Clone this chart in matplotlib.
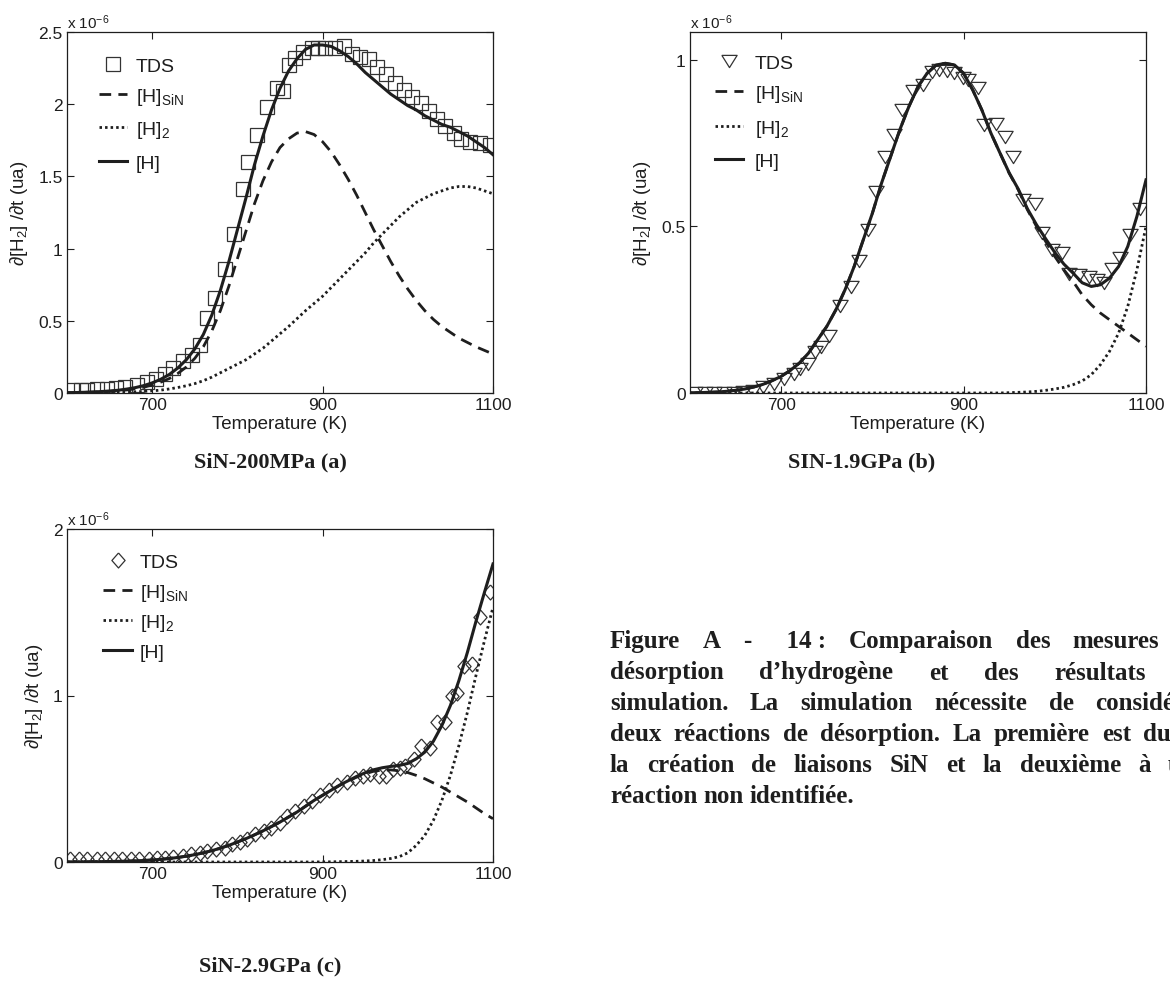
import matplotlib
matplotlib.use("Agg")
import matplotlib.pyplot as plt

plt.rcParams['font.family'] = ['Liberation Sans', 'DejaVu Sans']
plt.rcParams['mathtext.default'] = 'regular'
plt.rcParams['mathtext.fontset'] = 'custom'
plt.rcParams['mathtext.rm'] = 'Liberation Sans'

# ---------------------------------------------------------------- data
# temperature grid of the simulated curves (K)
temp_grid = [600, 610, 620, 630, 640, 650, 660, 670, 680, 690,
             700, 710, 720, 730, 740, 750, 760, 770, 780, 790,
             800, 810, 820, 830, 840, 850, 860, 870, 880, 890,
             900, 910, 920, 930, 940, 950, 960, 970, 980, 990,
             1000, 1010, 1020, 1030, 1040, 1050, 1060, 1070, 1080, 1090,
             1100]

# --- SiN-200MPa (a), values in 1e-6 ua
a_tds_T = [606, 616, 624, 635, 647, 658, 668, 682, 694, 704,
           715, 725, 736, 747, 756, 764, 774, 785, 796, 806,
           813, 823, 835, 846, 854, 860, 868, 877, 887, 895,
           903, 914, 925, 934, 944, 954, 964, 975, 985, 995,
           1005, 1015, 1025, 1034, 1044, 1054, 1063, 1073, 1085, 1097]
a_tds = [0.023, 0.023, 0.023, 0.028, 0.028, 0.032, 0.039, 0.055, 0.074, 0.10,
         0.13, 0.17, 0.22, 0.26, 0.33, 0.52, 0.66, 0.86, 1.10, 1.41,
         1.60, 1.79, 1.98, 2.11, 2.09, 2.27, 2.32, 2.36, 2.39, 2.39,
         2.39, 2.39, 2.40, 2.35, 2.33, 2.31, 2.26, 2.21, 2.15, 2.10,
         2.05, 2.01, 1.95, 1.90, 1.85, 1.80, 1.76, 1.74, 1.73, 1.72]
a_sin = [0.002, 0.003, 0.004, 0.006, 0.008, 0.011, 0.015, 0.021, 0.029, 0.040,
         0.055, 0.075, 0.100, 0.135, 0.180, 0.240, 0.320, 0.430, 0.570, 0.740,
         0.930, 1.120, 1.310, 1.470, 1.600, 1.700, 1.760, 1.800, 1.810, 1.790,
         1.740, 1.670, 1.580, 1.480, 1.370, 1.250, 1.130, 1.020, 0.910, 0.810,
         0.720, 0.640, 0.570, 0.510, 0.460, 0.420, 0.380, 0.350, 0.320, 0.295,
         0.270]
a_h2 = [0.000, 0.000, 0.001, 0.001, 0.002, 0.003, 0.004, 0.006, 0.008, 0.011,
        0.015, 0.020, 0.028, 0.038, 0.050, 0.065, 0.085, 0.110, 0.140, 0.170,
        0.200, 0.230, 0.270, 0.310, 0.360, 0.410, 0.460, 0.515, 0.570, 0.620,
        0.670, 0.730, 0.790, 0.850, 0.910, 0.970, 1.040, 1.100, 1.160, 1.220,
        1.270, 1.320, 1.350, 1.380, 1.400, 1.420, 1.430, 1.430, 1.420, 1.400,
        1.380]
a_total = [0.002, 0.003, 0.005, 0.007, 0.010, 0.014, 0.019, 0.027, 0.037, 0.051,
           0.070, 0.095, 0.128, 0.173, 0.230, 0.305, 0.405, 0.540, 0.710, 0.910,
           1.130, 1.350, 1.580, 1.780, 1.960, 2.110, 2.230, 2.315, 2.380, 2.410,
           2.410, 2.400, 2.370, 2.330, 2.280, 2.220, 2.170, 2.120, 2.070, 2.030,
           1.990, 1.960, 1.920, 1.890, 1.860, 1.840, 1.810, 1.780, 1.740, 1.700,
           1.650]

# --- SIN-1.9GPa (b)
b_tds_T = [605, 616, 626, 637, 648, 658, 669, 680, 692, 703,
           714, 721, 729, 737, 744, 752, 764, 776, 785, 795,
           804, 814, 824, 832, 844, 855, 865, 873, 882, 889,
           899, 905, 916, 922, 935, 945, 954, 965, 978, 986,
           997, 1008, 1016, 1027, 1037, 1046, 1054, 1063, 1072, 1082,
           1093]
b_tds = [0.000, 0.000, 0.000, 0.000, 0.000, 0.002, 0.007, 0.017, 0.027, 0.042,
         0.057, 0.072, 0.087, 0.122, 0.137, 0.172, 0.262, 0.317, 0.396, 0.490,
         0.605, 0.709, 0.774, 0.849, 0.907, 0.925, 0.964, 0.970, 0.968, 0.962,
         0.945, 0.940, 0.915, 0.805, 0.808, 0.770, 0.710, 0.580, 0.567, 0.479,
         0.429, 0.419, 0.357, 0.354, 0.347, 0.339, 0.329, 0.371, 0.404, 0.474,
         0.554]
b_sin = [0.000, 0.001, 0.002, 0.003, 0.005, 0.008, 0.012, 0.018, 0.026, 0.037,
         0.050, 0.068, 0.090, 0.120, 0.160, 0.200, 0.250, 0.310, 0.380, 0.460,
         0.540, 0.630, 0.710, 0.790, 0.860, 0.920, 0.960, 0.985, 0.990, 0.985,
         0.960, 0.910, 0.850, 0.780, 0.720, 0.660, 0.610, 0.550, 0.500, 0.455,
         0.410, 0.370, 0.335, 0.295, 0.265, 0.240, 0.220, 0.200, 0.180, 0.160,
         0.140]
b_h2 = [0.000, 0.000, 0.000, 0.000, 0.000, 0.000, 0.000, 0.000, 0.000, 0.000,
        0.000, 0.000, 0.000, 0.000, 0.000, 0.000, 0.000, 0.000, 0.000, 0.000,
        0.000, 0.000, 0.000, 0.000, 0.000, 0.000, 0.000, 0.000, 0.000, 0.000,
        0.000, 0.000, 0.000, 0.000, 0.000, 0.001, 0.002, 0.003, 0.005, 0.008,
        0.012, 0.017, 0.025, 0.036, 0.055, 0.085, 0.125, 0.180, 0.260, 0.370,
        0.500]
b_total = [0.000, 0.001, 0.002, 0.003, 0.005, 0.008, 0.012, 0.018, 0.026, 0.037,
           0.050, 0.068, 0.090, 0.120, 0.160, 0.200, 0.250, 0.310, 0.380, 0.460,
           0.540, 0.630, 0.710, 0.790, 0.860, 0.920, 0.960, 0.985, 0.990, 0.985,
           0.960, 0.910, 0.850, 0.780, 0.720, 0.661, 0.612, 0.553, 0.505, 0.463,
           0.422, 0.387, 0.360, 0.331, 0.320, 0.325, 0.345, 0.380, 0.440, 0.530,
           0.640]

# --- SiN-2.9GPa (c)
c_tds_T = [604, 614, 624, 635, 645, 655, 665, 675, 685, 696,
           706, 715, 725, 736, 746, 756, 764, 775, 785, 794,
           803, 811, 821, 831, 839, 850, 858, 868, 878, 888,
           897, 907, 917, 929, 938, 948, 956, 966, 975, 983,
           991, 997, 1007, 1015, 1026, 1034, 1044, 1052, 1058, 1066,
           1075, 1085, 1096]
c_tds = [0.016, 0.016, 0.016, 0.016, 0.016, 0.016, 0.016, 0.016, 0.016, 0.016,
         0.026, 0.026, 0.030, 0.036, 0.046, 0.056, 0.066, 0.076, 0.086, 0.106,
         0.120, 0.136, 0.166, 0.186, 0.206, 0.236, 0.277, 0.307, 0.337, 0.367,
         0.401, 0.431, 0.461, 0.481, 0.507, 0.517, 0.527, 0.517, 0.517, 0.557,
         0.567, 0.577, 0.617, 0.697, 0.687, 0.838, 0.838, 0.998, 1.018, 1.178,
         1.188, 1.471, 1.621]
c_sin = [0.000, 0.000, 0.001, 0.001, 0.002, 0.003, 0.004, 0.005, 0.007, 0.009,
         0.012, 0.016, 0.021, 0.027, 0.035, 0.044, 0.055, 0.068, 0.083, 0.100,
         0.120, 0.140, 0.163, 0.187, 0.213, 0.240, 0.270, 0.300, 0.335, 0.370,
         0.400, 0.430, 0.460, 0.485, 0.510, 0.530, 0.545, 0.552, 0.553, 0.548,
         0.537, 0.520, 0.500, 0.475, 0.450, 0.420, 0.390, 0.360, 0.325, 0.290,
         0.260]
c_h2 = [0.000, 0.000, 0.000, 0.000, 0.000, 0.000, 0.000, 0.000, 0.000, 0.000,
        0.000, 0.000, 0.000, 0.000, 0.000, 0.000, 0.000, 0.000, 0.000, 0.000,
        0.000, 0.000, 0.000, 0.000, 0.000, 0.000, 0.000, 0.000, 0.000, 0.000,
        0.001, 0.001, 0.002, 0.003, 0.004, 0.006, 0.009, 0.014, 0.021, 0.032,
        0.055, 0.100, 0.160, 0.250, 0.370, 0.520, 0.700, 0.900, 1.120, 1.330,
        1.530]
c_total = [0.000, 0.000, 0.001, 0.001, 0.002, 0.003, 0.004, 0.005, 0.007, 0.009,
           0.012, 0.016, 0.021, 0.027, 0.035, 0.044, 0.055, 0.068, 0.083, 0.100,
           0.120, 0.140, 0.163, 0.187, 0.213, 0.240, 0.270, 0.300, 0.335, 0.370,
           0.401, 0.431, 0.462, 0.488, 0.514, 0.536, 0.554, 0.566, 0.574, 0.580,
           0.592, 0.620, 0.660, 0.725, 0.820, 0.940, 1.090, 1.260, 1.445, 1.620,
           1.790]

x_ticks = [700, 900, 1100]
legend_labels = ['TDS', '[H]$_{SiN}$', '[H]$_2$', '[H]']
panel_titles = ['SiN-200MPa (a)', 'SIN-1.9GPa (b)', 'SiN-2.9GPa (c)']
caption_lines = [
    ['Figure', 'A', '-', '  14 :', 'Comparaison', 'des', 'mesures', 'de'],
    ['désorption', 'd\u2019hydrogène', 'et', 'des', 'résultats', 'de'],
    ['simulation.', 'La', 'simulation', 'nécessite', 'de', 'considérer'],
    ['deux', 'réactions', 'de', 'désorption.', 'La', 'première', 'est', 'due', 'à'],
    ['la', 'création', 'de', 'liaisons', 'SiN', 'et', 'la', 'deuxième', 'à', 'une'],
    ['réaction', 'non', 'identifiée.'],
]

# ---------------------------------------------------------------- figure
W, H = 1170, 995
fig = plt.figure(figsize=(W / 100, H / 100), dpi=100)
fig.patch.set_facecolor('white')
INK = '#1e1e1e'

# marker shapes
tri_down = [(-1.0, 0.8), (1.0, 0.8), (0.0, -0.8), (-1.0, 0.8)]
diamond = [(0.0, 1.0), (0.88, 0.0), (0.0, -1.0), (-0.88, 0.0), (0.0, 1.0)]


def add_axes_px(left, top, right, bottom):
    return fig.add_axes([left / W, 1 - bottom / H, (right - left) / W, (bottom - top) / H])


def style_axes(ax, ymax, yticks):
    ax.set_xlim(600, 1100)
    ax.set_ylim(0, ymax)
    ax.set_xticks(x_ticks)
    ax.set_xticklabels([str(t) for t in x_ticks])
    ax.set_yticks(yticks)
    ax.set_yticklabels(['%g' % t for t in yticks])
    ax.tick_params(direction='in', length=5, width=0.8, top=True, right=True,
                   labelsize=12.5, colors=INK, pad=3)
    for sp in ax.spines.values():
        sp.set_linewidth(0.9)
        sp.set_color(INK)
    ax.set_xlabel('Temperature (K)', fontsize=13.5, color=INK, labelpad=2)
    ax.set_ylabel('\u2202[H$_2$] /\u2202t (ua)', fontsize=13.5, color=INK, labelpad=6)
    ax.text(0.0, 1.004, 'x 10$^{-6}$', transform=ax.transAxes, fontsize=11,
            color=INK, ha='left', va='bottom')


def draw_panel(ax, tds_T, tds, sin, h2, total, marker, ms):
    ax.plot(tds_T, tds, linestyle='none', marker=marker, ms=ms, mfc='none',
            mec='#333333', mew=0.9, zorder=2)
    ax.plot(temp_grid, sin, color=INK, lw=2.0, linestyle=(0, (4.2, 2.6)), zorder=3)
    ax.plot(temp_grid, h2, color=INK, lw=2.0, linestyle=(0, (0.9, 1.1)), zorder=3)
    ax.plot(temp_grid, total, color=INK, lw=2.2, linestyle='-', zorder=4)


def draw_key(ax, box, x_l0, x_l1, x_txt, rows, marker, ms):
    left, top, right, bottom = box
    w, h = right - left, bottom - top
    fx = lambda px: px / w
    fy = lambda py: 1 - py / h
    styles = [None, (0, (4.2, 2.6)), (0, (0.9, 1.1)), '-']
    for i, (lab, row) in enumerate(zip(legend_labels, rows)):
        if i == 0:
            ax.plot([fx((x_l0 + x_l1) / 2)], [fy(row)], transform=ax.transAxes,
                    linestyle='none', marker=marker, ms=ms, mfc='none',
                    mec='#333333', mew=0.9, clip_on=False)
        else:
            ax.plot([fx(x_l0), fx(x_l1)], [fy(row), fy(row)], transform=ax.transAxes,
                    color=INK, lw=2.2 if i == 3 else 2.0, linestyle=styles[i],
                    clip_on=False)
        ax.text(fx(x_txt), fy(row + 7), lab, transform=ax.transAxes, fontsize=14,
                color=INK, ha='left', va='baseline')


box_a = (67, 33, 493, 394)
box_b = (690, 33, 1146, 394)
box_c = (67, 530, 493, 863)

ax_a = add_axes_px(*box_a)
style_axes(ax_a, 2.5, [0, 0.5, 1, 1.5, 2, 2.5])
draw_panel(ax_a, a_tds_T, a_tds, a_sin, a_h2, a_total, 's', 9.5)
draw_key(ax_a, box_a, 32, 60, 69, [32, 62, 95, 129], 's', 9.5)

ax_b = add_axes_px(*box_b)
style_axes(ax_b, 1.084, [0, 0.5, 1])
draw_panel(ax_b, b_tds_T, b_tds, b_sin, b_h2, b_total, tri_down, 11)
draw_key(ax_b, box_b, 25, 53, 65, [29, 59, 94, 127], tri_down, 11)

ax_c = add_axes_px(*box_c)
style_axes(ax_c, 2.0, [0, 1, 2])
draw_panel(ax_c, c_tds_T, c_tds, c_sin, c_h2, c_total, diamond, 10.8)
draw_key(ax_c, box_c, 36, 65, 73, [31, 61, 91, 121], diamond, 10.8)

# sub-figure titles
serif = ['Liberation Serif', 'DejaVu Serif']
for title, (cx, cy) in zip(panel_titles, [(270, 462), (862, 462), (270, 966)]):
    fig.text(cx / W, 1 - cy / H, title, family=serif, weight='bold', fontsize=16,
             color=INK, ha='center', va='center')

# justified caption paragraph, running past the right edge of the page
renderer = fig.canvas.get_renderer()
cap_left, cap_right = 610, 1207
cap_top, cap_step = 642, 31
for i, words in enumerate(caption_lines):
    y = 1 - (cap_top + i * cap_step) / H
    texts = [fig.text(0, y, wd, family=serif, weight='bold', fontsize=18,
                      color=INK, ha='left', va='center') for wd in words]
    widths = [t.get_window_extent(renderer).width for t in texts]
    if i < len(caption_lines) - 1:
        gap = (cap_right - cap_left - sum(widths)) / (len(words) - 1)
    else:
        gap = 6
    x = cap_left
    for t, wd in zip(texts, widths):
        t.set_x(x / W)
        x += wd + gap

fig.savefig('out.png', dpi=100, facecolor='white')
